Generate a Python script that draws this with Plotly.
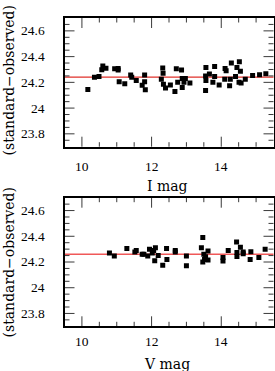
import plotly.graph_objects as go

# Top panel: I mag vs (standard - observed)
i_mag = [10.17, 10.36, 10.49, 10.57, 10.60, 10.69, 10.94, 11.04, 11.04, 11.07, 11.23, 11.40, 11.43,
         11.56, 11.80, 11.80, 11.73, 11.82, 12.32, 12.33, 12.28, 12.34, 12.40, 12.54, 12.67, 12.71,
         12.86, 12.75, 12.88, 12.97, 12.93, 12.88, 13.10, 13.56, 13.55, 13.56, 13.55, 13.66, 13.81,
         13.81, 13.76, 13.94, 14.11, 14.14, 14.10, 14.29, 14.26, 14.24, 14.41, 14.45, 14.52, 14.55,
         14.51, 14.57, 14.69, 14.90, 15.10, 15.28]
i_diff = [24.144, 24.24, 24.245, 24.297, 24.328, 24.31, 24.305, 24.307, 24.295, 24.204, 24.19, 24.258,
          24.24, 24.214, 24.258, 24.204, 24.178, 24.142, 24.312, 24.27, 24.225, 24.186, 24.157, 24.18,
          24.129, 24.305, 24.295, 24.2, 24.23, 24.23, 24.2, 24.16, 24.194, 24.315, 24.25, 24.214,
          24.137, 24.264, 24.323, 24.245, 24.2, 24.18, 24.307, 24.29, 24.225, 24.35, 24.225, 24.173,
          24.245, 24.315, 24.36, 24.287, 24.2, 24.194, 24.225, 24.253, 24.26, 24.266]
i_mean = 24.24

# Bottom panel: V mag vs (standard - observed)
v_mag = [10.79, 10.93, 11.29, 11.52, 11.56, 11.73, 11.78, 11.89, 11.94, 12.02, 12.06, 12.11, 12.09,
         12.19, 12.32, 12.43, 12.44, 12.68, 12.68, 13.00, 13.00, 13.47, 13.43, 13.50, 13.55, 13.47,
         13.62, 13.62, 13.52, 14.05, 14.05, 14.20, 14.44, 14.55, 14.45, 14.45, 14.63, 14.63, 14.85,
         14.83, 15.08, 15.26]
v_diff = [24.27, 24.246, 24.305, 24.278, 24.29, 24.26, 24.26, 24.246, 24.3, 24.27, 24.29, 24.31, 24.21,
          24.25, 24.175, 24.305, 24.22, 24.29, 24.277, 24.246, 24.17, 24.39, 24.31, 24.26, 24.24, 24.2,
          24.285, 24.215, 24.22, 24.235, 24.207, 24.29, 24.356, 24.315, 24.274, 24.243, 24.277, 24.265,
          24.28, 24.22, 24.235, 24.3]
v_mean = 24.26

x_range = [9.5, 15.5]
y_range = [23.7, 24.7]
x_major = [10, 12, 14]
x_tick_labels = ["10", "12", "14"]
x_minor = [10.5, 11, 11.5, 12.5, 13, 13.5, 14.5, 15]
y_major = [23.8, 24.0, 24.2, 24.4, 24.6]
y_tick_labels = ["23.8", "24", "24.2", "24.4", "24.6"]
y_minor = [23.75, 23.85, 23.9, 23.95, 24.05, 24.1, 24.15, 24.25, 24.3, 24.35, 24.45, 24.5,
           24.55, 24.65]
y_title = "(standard−observed)"
x_titles = ["I mag", "V mag"]

W, H = 275, 371
tick_font = dict(family="Liberation Serif, serif", size=13.5, color="black")
title_font = dict(family="DejaVu Serif, serif", size=14, color="black")

# plot-area geometry in pixels
PL, PR = 64.5, 273.5
TOP = (18.0, 146.7)
BOT = (197.7, 326.3)
PW = PR - PL
MAJ, MIN_Y, MIN_X = 10.0, 5.0, 4.5


def tick_shapes(xr, yr, ph):
    """Inside tick marks on all four sides, placed through the panel's own axes."""
    out = []
    tc = dict(color="#3a3a3a", width=1)
    for vals, L in ((y_major, MAJ), (y_minor, MIN_Y)):
        f = L / PW
        for v in vals:
            out.append(dict(type="line", xref=xr + " domain", yref=yr, x0=0, x1=f, y0=v, y1=v,
                            line=tc, layer="below"))
            out.append(dict(type="line", xref=xr + " domain", yref=yr, x0=1 - f, x1=1, y0=v, y1=v,
                            line=tc, layer="below"))
    for vals, L in ((x_major, MAJ), (x_minor, MIN_X)):
        f = L / ph
        for v in vals:
            out.append(dict(type="line", xref=xr, yref=yr + " domain", x0=v, x1=v, y0=0, y1=f,
                            line=tc, layer="below"))
            out.append(dict(type="line", xref=xr, yref=yr + " domain", x0=v, x1=v, y0=1 - f, y1=1,
                            line=tc, layer="below"))
    return out


fig = go.Figure()
fig.add_trace(go.Scatter(x=i_mag, y=i_diff, mode="markers", xaxis="x", yaxis="y",
                         marker=dict(symbol="square", size=5, color="black"), showlegend=False))
fig.add_trace(go.Scatter(x=v_mag, y=v_diff, mode="markers", xaxis="x2", yaxis="y2",
                         marker=dict(symbol="square", size=5, color="black"), showlegend=False))

xdom = [PL / W, PR / W]
frame_x = dict(range=x_range, domain=xdom, showgrid=False, zeroline=False, showline=True,
               linecolor="black", linewidth=1.5, mirror=True, ticks="", showticklabels=False)
frame_y = dict(range=y_range, showgrid=False, zeroline=False, showline=True,
               linecolor="black", linewidth=1.5, mirror=True, ticks="", showticklabels=False)

annotations = []
for (ya, xa, lab_y_px, title_y_px, xt) in (("y", "x", 166.0, 186.0, x_titles[0]),
                                             ("y2", "x2", 341.5, 364.0, x_titles[1])):
    for v, t in zip(y_major, y_tick_labels):
        annotations.append(dict(text=t, xref="paper", yref=ya, x=46.5 / W, y=v,
                                xanchor="right", yanchor="middle", showarrow=False,
                                font=tick_font))
    for v, t in zip(x_major, x_tick_labels):
        annotations.append(dict(text=t, xref=xa, yref="paper", x=v, y=1 - lab_y_px / H,
                                xanchor="center", yanchor="middle", showarrow=False,
                                font=tick_font))
    annotations.append(dict(text=xt, xref="paper", yref="paper", x=167 / W, y=1 - title_y_px / H,
                            showarrow=False, xanchor="center", yanchor="middle", font=title_font))

for cy in (80, 262):
    annotations.append(dict(text=y_title, xref="paper", yref="paper", x=8.5 / W, y=1 - cy / H,
                            textangle=-90, showarrow=False, xanchor="center", yanchor="middle",
                            font=title_font))

shapes = [
    dict(type="line", xref="x domain", yref="y", x0=0, x1=1, y0=i_mean, y1=i_mean,
         line=dict(color="#e0302a", width=1.2), layer="below"),
    dict(type="line", xref="x2 domain", yref="y2", x0=0, x1=1, y0=v_mean, y1=v_mean,
         line=dict(color="#f05858", width=1.6), layer="below"),
]
shapes += tick_shapes("x", "y", TOP[1] - TOP[0])
shapes += tick_shapes("x2", "y2", BOT[1] - BOT[0])

fig.update_layout(
    width=W, height=H, margin=dict(l=0, r=0, t=0, b=0),
    paper_bgcolor="white", plot_bgcolor="white",
    xaxis=dict(frame_x, anchor="y"),
    yaxis=dict(frame_y, domain=[1 - TOP[1] / H, 1 - TOP[0] / H], anchor="x"),
    xaxis2=dict(frame_x, anchor="y2"),
    yaxis2=dict(frame_y, domain=[1 - BOT[1] / H, 1 - BOT[0] / H], anchor="x2"),
    shapes=shapes,
    annotations=annotations,
)

fig.write_html("out.html", config={"displayModeBar": False},
               post_script="document.body.style.margin='0';")
